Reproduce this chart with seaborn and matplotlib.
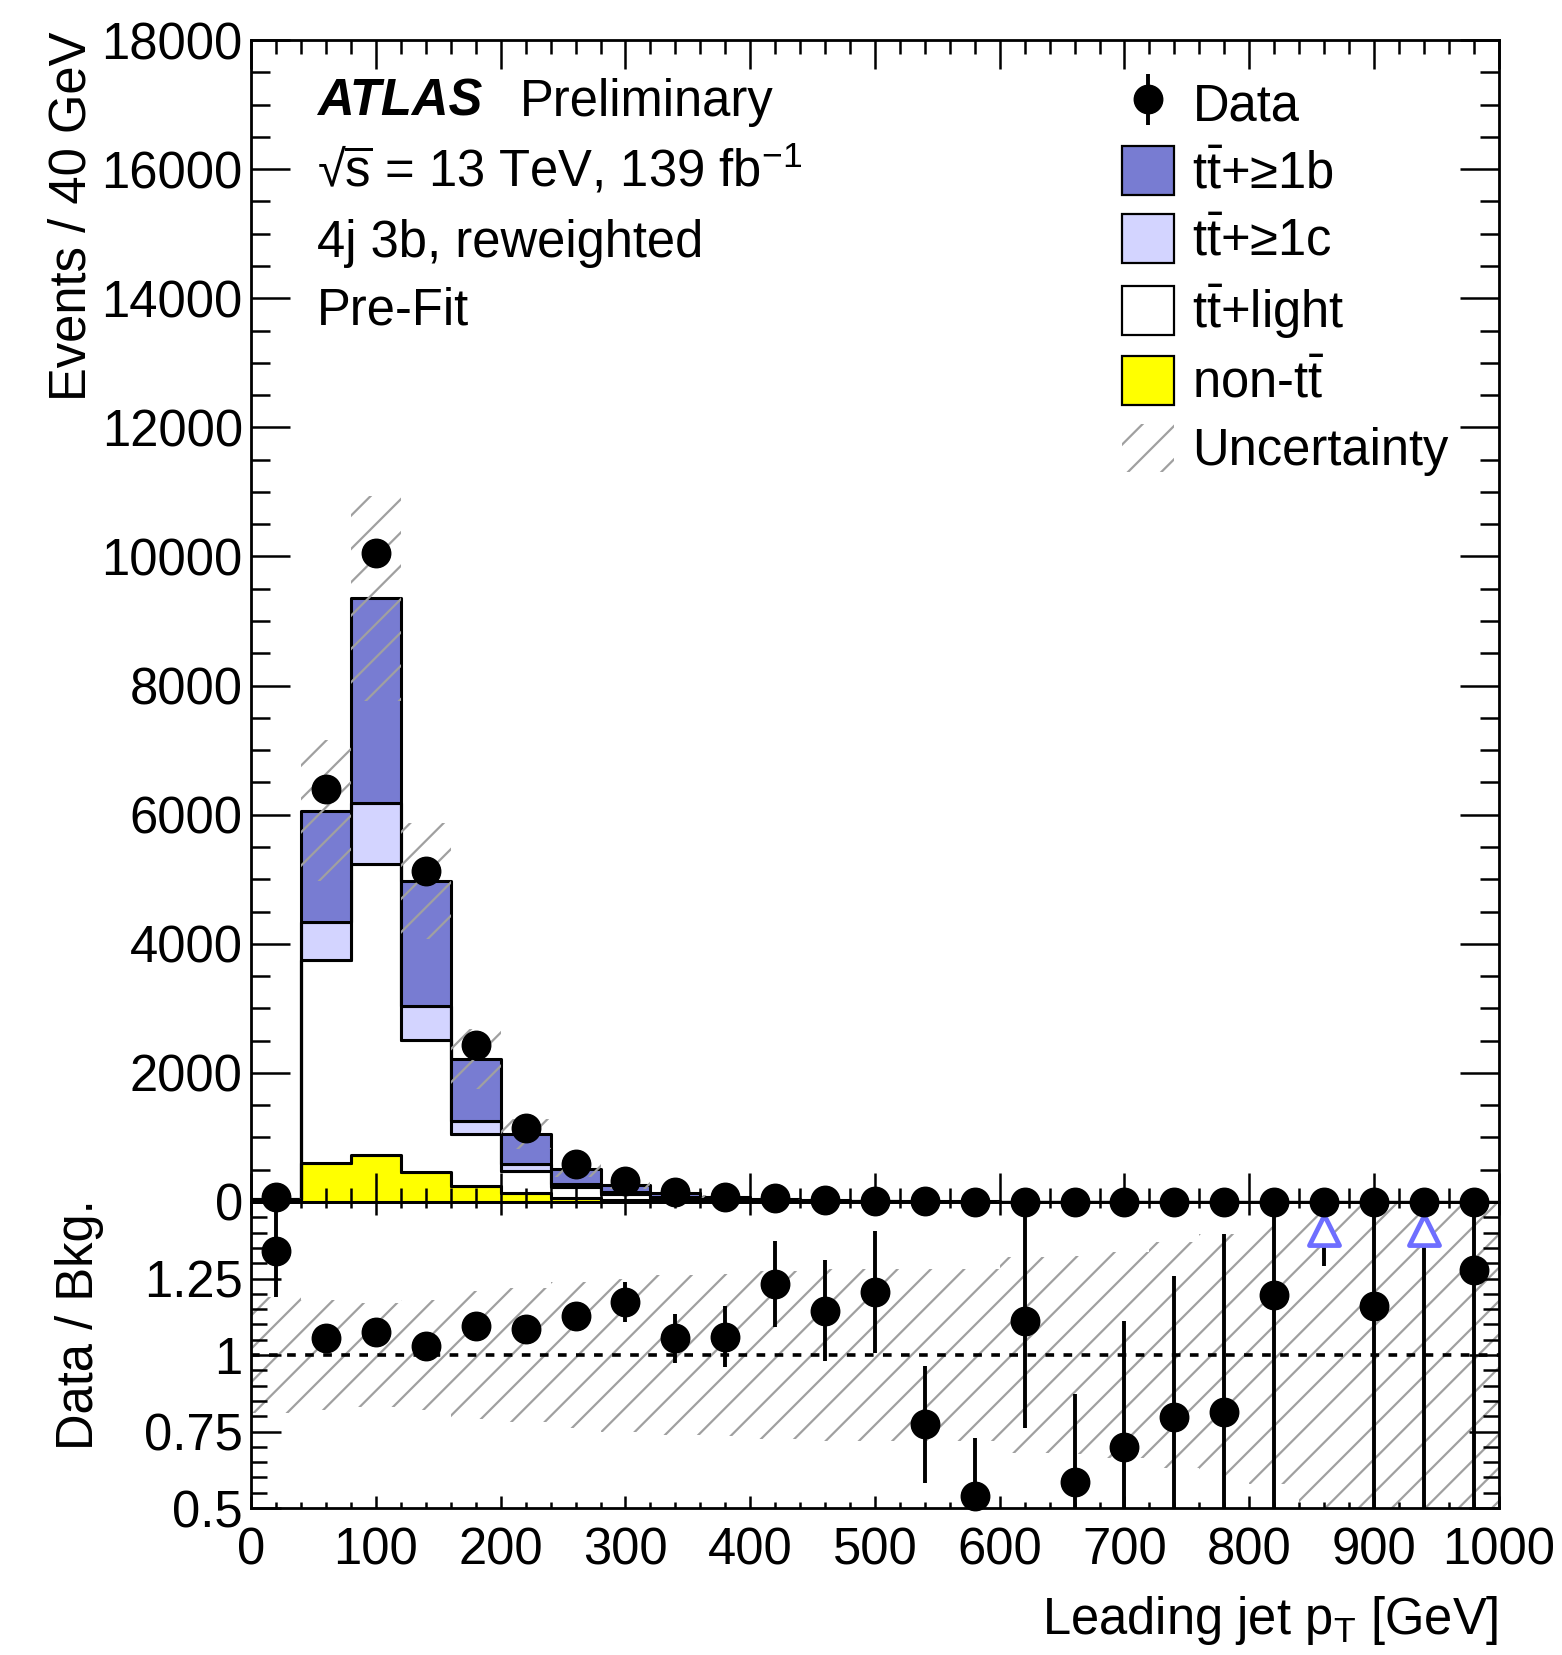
import numpy as np
import pandas as pd
import matplotlib
matplotlib.use("Agg")
import matplotlib.pyplot as plt
import seaborn as sns
from matplotlib.ticker import MultipleLocator, FixedLocator, FixedFormatter
from matplotlib.patches import Patch

# ---------------- data ----------------
bin_edges = np.arange(0, 1001, 40)
bin_centers = 0.5 * (bin_edges[:-1] + bin_edges[1:])

non_tt = [4, 600, 728, 460, 253, 134, 67, 33, 16, 9, 5, 3, 2, 1.5, 1.2, 0.8, 0.6, 0.4,
          0.3, 0.25, 0.2, 0.15, 0.12, 0.1, 0.08]
tt_light = [30, 3149, 4508, 2050, 796, 346, 170, 95, 48, 28, 16, 11, 6, 4.5, 3.5, 2.5,
            1.8, 1.3, 1.0, 0.8, 0.6, 0.5, 0.4, 0.3, 0.25]
tt_c = [7, 594, 940, 532, 211, 104, 35, 20, 10, 6, 3, 2, 1.3, 1, 0.8, 0.6, 0.45, 0.35,
        0.25, 0.2, 0.15, 0.12, 0.1, 0.08, 0.06]
tt_b = [11, 1719, 3174, 1931, 955, 465, 239, 115, 61, 37, 21, 14, 8.7, 6, 5, 3.5, 2.7, 2,
        1.5, 1.2, 0.9, 0.7, 0.6, 0.5, 0.4]
data_events = [70, 6400, 10050, 5130, 2435, 1145, 585, 320, 150, 85, 55, 35, 22, 10, 6, 5,
               3, 3, 2, 2, 2, 1, 1, 1, 1]

ratio = [1.34, 1.055, 1.074, 1.03, 1.096, 1.085, 1.127, 1.172, 1.055, 1.06, 1.231, 1.144,
         1.205, 0.773, 0.54, 1.111, 0.584, 0.70, 0.798, 0.815, 1.196, 1.62, 1.16, 1.70, 1.278]
ratio_err_up = [0.20, 0.015, 0.01, 0.015, 0.02, 0.03, 0.045, 0.065, 0.08, 0.10, 0.14, 0.165,
                0.20, 0.19, 0.19, 0.45, 0.29, 0.41, 0.46, 0.58, 0.8, 0.8, 0.8, 0.8, 0.8]
ratio_err_dn = [0.15, 0.015, 0.01, 0.015, 0.02, 0.03, 0.045, 0.065, 0.08, 0.10, 0.14, 0.165,
                0.20, 0.19, 0.19, 0.35, 0.29, 0.41, 0.46, 0.58, 0.8, 0.33, 0.8, 1.3, 0.8]
unc_rel = [0.19, 0.18, 0.17, 0.18, 0.21, 0.22, 0.24, 0.25, 0.26, 0.265, 0.275, 0.28, 0.28,
           0.28, 0.28, 0.32, 0.325, 0.335, 0.37, 0.395, 0.42, 0.5, 0.5, 0.5, 0.5]

process_labels = ["t$\\bar{\\mathrm{t}}$+≥1b", "t$\\bar{\\mathrm{t}}$+≥1c",
                  "t$\\bar{\\mathrm{t}}$+light", "non-t$\\bar{\\mathrm{t}}$"]
process_colors = ["#787CD2", "#D3D4FF", "#FFFFFF", "#FFFF00"]

# ---------------- style ----------------
sns.set_style("ticks")
plt.rcParams["font.family"] = ["Liberation Sans", "DejaVu Sans"]
plt.rcParams["mathtext.fontset"] = "custom"
plt.rcParams["mathtext.rm"] = "Liberation Sans"
plt.rcParams["mathtext.it"] = "Liberation Sans:italic"
plt.rcParams["mathtext.bf"] = "Liberation Sans:bold"
plt.rcParams["hatch.linewidth"] = 1.6
plt.rcParams["axes.linewidth"] = 2.0
for key in ["text.color", "axes.labelcolor", "xtick.color", "ytick.color",
            "axes.edgecolor", "xtick.labelcolor", "ytick.labelcolor"]:
    plt.rcParams[key] = "black"
FS = 36.5
HATCH_C = "#A0A0A0"

fig = plt.figure(figsize=(15.62, 16.55), dpi=100)
ax = fig.add_axes([0.16082, 0.27372, 0.79866, 0.70205])
axr = fig.add_axes([0.16082, 0.08882, 0.79866, 0.18489])
ax.set_zorder(3)
axr.set_zorder(2)

# ---------------- stacked histogram ----------------
rows = []
for lab, vals in zip(process_labels, [tt_b, tt_c, tt_light, non_tt]):
    for c, v in zip(bin_centers, vals):
        rows.append({"pt": c, "events": v, "process": lab})
df = pd.DataFrame(rows)

sns.histplot(data=df, x="pt", weights="events", hue="process", hue_order=process_labels,
             palette=dict(zip(process_labels, process_colors)), multiple="stack",
             element="step", bins=bin_edges.tolist(), edgecolor="black", linewidth=2.2,
             alpha=1, legend=False, ax=ax)

total = np.array(tt_b) + np.array(tt_c) + np.array(tt_light) + np.array(non_tt)
unc = np.array(unc_rel)
ax.fill_between(bin_edges, np.append(total * (1 - unc), total[-1] * (1 - unc[-1])),
                np.append(total * (1 + unc), total[-1] * (1 + unc[-1])), step="post",
                facecolor="none", edgecolor=HATCH_C, hatch="/", linewidth=0, zorder=2)

data_arr = np.array(data_events, dtype=float)
eb = ax.errorbar(bin_centers, data_arr, yerr=np.sqrt(data_arr), fmt="o", color="black",
                 markersize=20.5, elinewidth=2.8, capsize=0, zorder=6)
eb[0].set_clip_on(False)

ax.set_xlim(0, 1000)
ax.set_ylim(0, 18000)
ax.set_axisbelow(False)
ax.xaxis.set_major_locator(MultipleLocator(100))
ax.xaxis.set_minor_locator(MultipleLocator(20))
ax.yaxis.set_major_locator(MultipleLocator(2000))
ax.yaxis.set_minor_locator(MultipleLocator(500))
ax.tick_params(axis="x", which="major", direction="in", length=21, width=1.8,
               top=True, bottom=True, labelbottom=False)
ax.tick_params(axis="x", which="minor", direction="in", length=10, width=1.8,
               top=True, bottom=True)
ax.tick_params(axis="y", which="major", direction="in", length=28, width=1.8,
               left=True, right=True, labelsize=FS, pad=6)
ax.tick_params(axis="y", which="minor", direction="in", length=14, width=1.8,
               left=True, right=True)
ax.set_xlabel("")
ax.set_ylabel("Events / 40 GeV", fontsize=FS, loc="top")
ax.yaxis.set_label_coords(-0.124, 1.007)
for s in ax.spines.values():
    s.set_linewidth(2.0)
    s.set_visible(True)

# labels
ax.text(0.0524, 0.9347, "ATLAS", transform=ax.transAxes, fontsize=FS, fontweight="bold",
        fontstyle="italic", va="baseline")
ax.text(0.2157, 0.9347, "Preliminary", transform=ax.transAxes, fontsize=FS, va="baseline")
ax.text(0.0524, 0.8736, "√$\\overline{\\mathrm{s}}$ = 13 TeV, 139 fb$^{\\mathrm{-1}}$",
        transform=ax.transAxes, fontsize=FS, va="baseline")
ax.text(0.0524, 0.8137, "4j 3b, reweighted", transform=ax.transAxes, fontsize=FS,
        va="baseline")
ax.text(0.0524, 0.7548, "Pre-Fit", transform=ax.transAxes, fontsize=FS, va="baseline")

# legend
handles = [eb] + [Patch(facecolor=c, edgecolor="black", linewidth=1.6)
                  for c in process_colors] + \
          [Patch(facecolor="none", edgecolor=HATCH_C, hatch="/", linewidth=0)]
labels = ["Data"] + process_labels + ["Uncertainty"]
ax.legend(handles, labels, loc="upper left", bbox_to_anchor=(0.698, 0.9668),
          frameon=False, borderpad=0, borderaxespad=0, handlelength=1.02,
          handleheight=1.1, labelspacing=0.30, handletextpad=0.37, fontsize=FS)

# ---------------- ratio panel ----------------
axr.fill_between(bin_edges, np.append(1 - unc, 1 - unc[-1]), np.append(1 + unc, 1 + unc[-1]),
                 step="post", facecolor="none", edgecolor=HATCH_C, hatch="/",
                 linewidth=0, zorder=1)
axr.axhline(1.0, color="black", lw=2.6, ls=(0, (2.4, 2.6)), zorder=3)

r = np.array(ratio)
rup = np.array(ratio_err_up)
rdn = np.array(ratio_err_dn)
rmax = 1.5
inside = r <= rmax
eb2 = axr.errorbar(bin_centers[inside], r[inside], yerr=[rdn[inside], rup[inside]], fmt="o",
                   color="black", markersize=20.5, elinewidth=2.8, capsize=0, zorder=6)
eb2[0].set_clip_on(False)

# off-scale points: arrow marker near the top, error line down to the lower bound
arrow_y = rmax - 0.09
out_x = bin_centers[~inside]
axr.vlines(out_x, (r - rdn)[~inside], np.full(out_x.size, arrow_y), color="black",
           lw=2.8, zorder=5)
sns.scatterplot(x=out_x, y=np.full(out_x.size, arrow_y), marker="^", s=470,
                facecolor="white", edgecolor="#6E6EFF", linewidth=3.4, zorder=7, ax=axr)

axr.set_xlim(0, 1000)
axr.set_ylim(0.5, 1.5)
axr.set_axisbelow(False)
axr.xaxis.set_major_locator(MultipleLocator(100))
axr.xaxis.set_minor_locator(MultipleLocator(20))
axr.yaxis.set_major_locator(FixedLocator([0.5, 0.75, 1.0, 1.25]))
axr.yaxis.set_major_formatter(FixedFormatter(["0.5", "0.75", "1", "1.25"]))
axr.yaxis.set_minor_locator(MultipleLocator(0.05))
axr.tick_params(axis="x", which="major", direction="in", length=9, width=1.8,
                top=True, bottom=True, labelsize=FS, pad=13)
axr.tick_params(axis="x", which="minor", direction="in", length=4.5, width=1.8,
                top=True, bottom=True)
axr.tick_params(axis="y", which="major", direction="in", length=21.6, width=1.8,
                left=True, right=True, labelsize=FS, pad=6)
axr.tick_params(axis="y", which="minor", direction="in", length=11.5, width=1.8,
                left=True, right=True)
axr.set_xlabel("Leading jet p$_{\\mathrm{T}}$ [GeV]", fontsize=FS, loc="right")
axr.xaxis.set_label_coords(1.0, -0.281)
axr.set_ylabel("Data / Bkg.", fontsize=FS)
axr.yaxis.set_label_coords(-0.118, 0.60)
for s in axr.spines.values():
    s.set_linewidth(2.0)
    s.set_visible(True)

fig.savefig("out.png", dpi=100)
